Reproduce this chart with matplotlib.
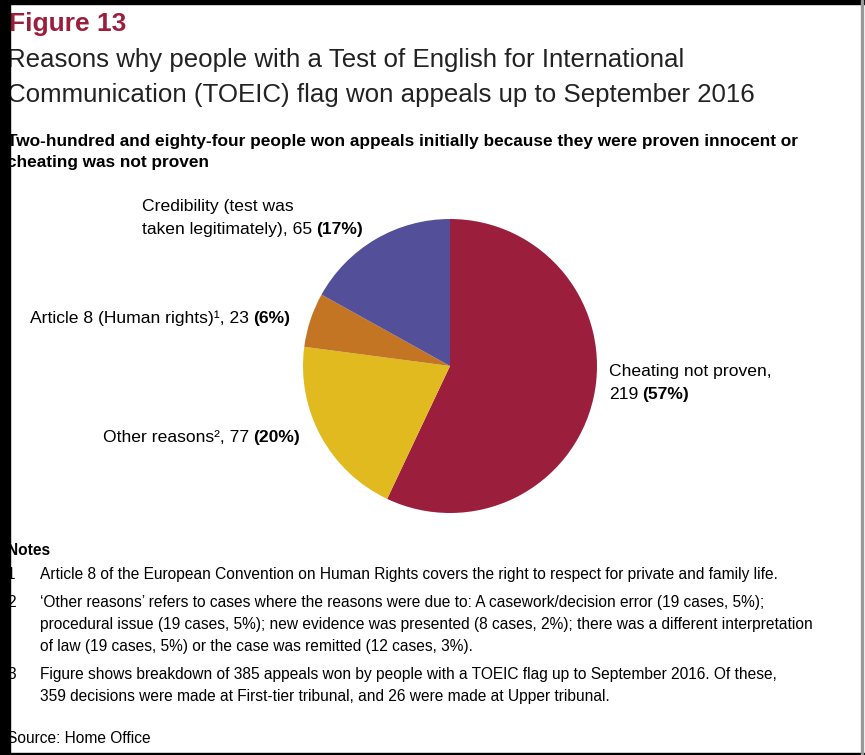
import matplotlib
matplotlib.use("Agg")
import matplotlib.pyplot as plt
from matplotlib.patches import Rectangle

W, H = 865, 755

# pie data, clockwise from 12 o'clock
counts = [219, 77, 23, 65]
shares = ["57%", "20%", "6%", "17%"]
colors = ["#9b1f3d", "#e0ba1e", "#c37524", "#534f98"]
label_first = ["Cheating not proven,", "", "", "Credibility (test was"]
label_last = ["", "Other reasons\u00b2", "Article 8 (Human rights)\u00b9", "taken legitimately)"]
# left x and baseline y (pixels from top) of the last label line
label_pos = [(609, 399), (103, 442), (30, 323), (142, 234)]

title = "Figure 13"
subtitle = ["Reasons why people with a Test of English for International",
            "Communication (TOEIC) flag won appeals up to September 2016"]
heading = ["Two-hundred and eighty-four people won appeals initially because they were proven innocent or",
           "cheating was not proven"]
notes = [
    ("1", ["Article 8 of the European Convention on Human Rights covers the right to respect for private and family life."]),
    ("2", ["\u2018Other reasons\u2019 refers to cases where the reasons were due to: A casework/decision error (19 cases, 5%);",
           "procedural issue (19 cases, 5%); new evidence was presented (8 cases, 2%); there was a different interpretation",
           "of law (19 cases, 5%) or the case was remitted (12 cases, 3%)."]),
    ("3", ["Figure shows breakdown of 385 appeals won by people with a TOEIC flag up to September 2016. Of these,",
           "359 decisions were made at First-tier tribunal, and 26 were made at Upper tribunal."]),
]
source = "Source: Home Office"

plt.rcParams['font.family'] = ['Liberation Sans', 'DejaVu Sans']

fig = plt.figure(figsize=(W / 100, H / 100), dpi=100)
fig.patch.set_facecolor("white")
renderer = fig.canvas.get_renderer()


def put(x, y, s, **kw):
    # x, y in pixels, y measured from the top, y is the baseline
    return fig.text(x, H - y, s, transform=None, va="baseline", ha="left", **kw)


put(9, 31, title, fontsize=19, fontweight="bold", color="#9b1f3d")
put(7, 67, subtitle[0], fontsize=18.6, color="#222222")
put(7, 102, subtitle[1], fontsize=18.6, color="#222222")
put(7, 146, heading[0], fontsize=12.4, fontweight="bold")
put(7, 167, heading[1], fontsize=12.4, fontweight="bold")

# pie
cx, cy, r = 450, 366, 147
ax = fig.add_axes([(cx - r) / W, 1 - (cy + r) / H, 2 * r / W, 2 * r / H])
ax.pie(counts, colors=colors, startangle=90, counterclock=False,
       wedgeprops=dict(linewidth=0))
ax.set_xlim(-1, 1)
ax.set_ylim(-1, 1)
ax.set_aspect("auto")
ax.axis("off")

lab_size = 12.6
for first, last, n, pct, (x, y) in zip(label_first, label_last, counts, shares, label_pos):
    if first:
        put(x, y - 23, first, fontsize=lab_size)
    txt = f"{last}, {n}" if last else f"{n}"
    t = put(x, y, txt, fontsize=lab_size)
    x1 = t.get_window_extent(renderer).x1 + 4
    fig.text(x1, H - y, f"({pct})", transform=None, va="baseline", ha="left",
             fontsize=lab_size, fontweight="bold")

# notes
note_size = 11.2
put(7, 555, "Notes", fontsize=note_size, fontweight="bold")
y = 579
for num, lines in notes:
    put(7, y, num, fontsize=note_size)
    for line in lines:
        put(40, y, line, fontsize=note_size)
        y += 22
    y += 6
put(7, 743, source, fontsize=note_size)

# frame
fig.add_artist(Rectangle((0, 0), 10, H, transform=None, color="black", zorder=10))
fig.add_artist(Rectangle((0, H - 4), W, 4, transform=None, color="black", zorder=10))
fig.add_artist(Rectangle((0, 0), W, 2.5, transform=None, color="black", zorder=10))
fig.add_artist(Rectangle((861, 0), 2, H, transform=None, color="#999999", zorder=10))

fig.savefig("out.png", dpi=100)
